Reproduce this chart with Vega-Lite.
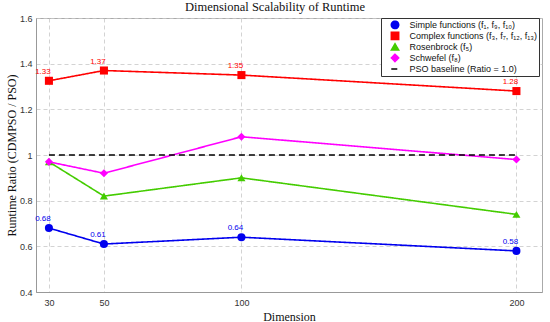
{
  "$schema": "https://vega.github.io/schema/vega-lite/v6.json",
  "width": 506,
  "height": 274,
  "autosize": {"type": "none"},
  "padding": {"left": 36, "top": 18, "right": 8, "bottom": 30},
  "background": "white",
  "title": {"text": "Dimensional Scalability of Runtime", "font": "Liberation Serif", "fontSize": 12.5, "fontWeight": "normal", "color": "#111", "offset": 1, "anchor": "middle", "dx": -14},
  "config": {
    "view": {"stroke": "#aaa", "strokeWidth": 1},
    "axis": {"labelFont": "Liberation Sans", "labelFontSize": 9, "labelColor": "#333", "titleFont": "Liberation Serif", "titleFontSize": 12, "titleFontWeight": "normal", "titleColor": "#111", "gridColor": "#c8c8c8", "gridDash": [4, 3], "gridWidth": 0.8, "domainColor": "#999", "tickSize": 0}
  },
  "data": {"values": [
    {"series": "Simple functions (f₁, f₉, f₁₀)", "dim": 30, "ratio": 0.68, "label": "0.68"},
    {"series": "Simple functions (f₁, f₉, f₁₀)", "dim": 50, "ratio": 0.61, "label": "0.61"},
    {"series": "Simple functions (f₁, f₉, f₁₀)", "dim": 100, "ratio": 0.64, "label": "0.64"},
    {"series": "Simple functions (f₁, f₉, f₁₀)", "dim": 200, "ratio": 0.58, "label": "0.58"},
    {"series": "Complex functions (f₃, f₇, f₁₂, f₁₃)", "dim": 30, "ratio": 1.325, "label": "1.33"},
    {"series": "Complex functions (f₃, f₇, f₁₂, f₁₃)", "dim": 50, "ratio": 1.37, "label": "1.37"},
    {"series": "Complex functions (f₃, f₇, f₁₂, f₁₃)", "dim": 100, "ratio": 1.35, "label": "1.35"},
    {"series": "Complex functions (f₃, f₇, f₁₂, f₁₃)", "dim": 200, "ratio": 1.28, "label": "1.28"},
    {"series": "Rosenbrock (f₅)", "dim": 30, "ratio": 0.97},
    {"series": "Rosenbrock (f₅)", "dim": 50, "ratio": 0.82},
    {"series": "Rosenbrock (f₅)", "dim": 100, "ratio": 0.90},
    {"series": "Rosenbrock (f₅)", "dim": 200, "ratio": 0.74},
    {"series": "Schwefel (f₈)", "dim": 30, "ratio": 0.97},
    {"series": "Schwefel (f₈)", "dim": 50, "ratio": 0.92},
    {"series": "Schwefel (f₈)", "dim": 100, "ratio": 1.08},
    {"series": "Schwefel (f₈)", "dim": 200, "ratio": 0.98},
    {"series": "PSO baseline (Ratio = 1.0)", "dim": 30, "ratio": 1.0},
    {"series": "PSO baseline (Ratio = 1.0)", "dim": 200, "ratio": 1.0}
  ]},
  "encoding": {
    "x": {"field": "dim", "type": "quantitative", "title": "Dimension",
      "scale": {"domain": [25.3, 209.3], "nice": false, "zero": false},
      "axis": {"values": [30, 50, 100, 200], "titlePadding": 4, "labelPadding": 6}},
    "y": {"field": "ratio", "type": "quantitative", "title": "Runtime Ratio (CDMPSO / PSO)",
      "scale": {"domain": [0.4, 1.6], "nice": false},
      "axis": {"values": [0.4, 0.6, 0.8, 1.0, 1.2, 1.4, 1.6], "format": "~g", "titlePadding": 1, "labelPadding": 4}},
    "color": {"field": "series", "type": "nominal",
      "scale": {"domain": ["Simple functions (f₁, f₉, f₁₀)", "Complex functions (f₃, f₇, f₁₂, f₁₃)", "Rosenbrock (f₅)", "Schwefel (f₈)", "PSO baseline (Ratio = 1.0)"],
        "range": ["#0000ee", "#ff0000", "#44cc00", "#ff00ff", "#000000"]},
      "legend": {"title": null, "orient": "none", "legendX": 345, "legendY": 0, "fillColor": "white", "strokeColor": "#333", "padding": 1.5, "labelFont": "Liberation Sans", "labelFontSize": 9, "labelColor": "#111", "rowPadding": 0, "symbolSize": 55, "clipHeight": 10.8, "symbolOffset": 8, "labelOffset": 10, "labelLimit": 300, "symbolStrokeWidth": 1.5,
        "encode": {"symbols": {"update": {"stroke": {"scale": "color", "field": "value"}, "strokeDash": {"signal": "datum.value === 'PSO baseline (Ratio = 1.0)' ? [4, 3] : [1, 0]"}}}}}
    }
  },
  "layer": [
    {"mark": {"type": "line", "strokeWidth": 1.6},
     "encoding": {
       "strokeDash": {"field": "series", "type": "nominal", "legend": null,
         "scale": {"domain": ["Simple functions (f₁, f₉, f₁₀)", "Complex functions (f₃, f₇, f₁₂, f₁₃)", "Rosenbrock (f₅)", "Schwefel (f₈)", "PSO baseline (Ratio = 1.0)"],
           "range": [[1, 0], [1, 0], [1, 0], [1, 0], [6, 4]]}}
     }},
    {"transform": [{"filter": "datum.series !== 'PSO baseline (Ratio = 1.0)'"}],
     "mark": {"type": "point", "filled": true, "opacity": 1, "size": 65},
     "encoding": {
       "shape": {"field": "series", "type": "nominal",
         "scale": {"domain": ["Simple functions (f₁, f₉, f₁₀)", "Complex functions (f₃, f₇, f₁₂, f₁₃)", "Rosenbrock (f₅)", "Schwefel (f₈)", "PSO baseline (Ratio = 1.0)"],
           "range": ["circle", "square", "triangle-up", "diamond", "stroke"]}}
     }},
    {"transform": [{"filter": "isValid(datum.label)"}],
     "mark": {"type": "text", "font": "Liberation Sans", "fontSize": 8, "dx": -6, "dy": -9},
     "encoding": {
       "text": {"field": "label"},
       "color": {"field": "series", "type": "nominal", "legend": null,
         "scale": {"domain": ["Simple functions (f₁, f₉, f₁₀)", "Complex functions (f₃, f₇, f₁₂, f₁₃)", "Rosenbrock (f₅)", "Schwefel (f₈)", "PSO baseline (Ratio = 1.0)"],
           "range": ["#0000ee", "#ff0000", "#44cc00", "#ff00ff", "#000000"]}}
     }}
  ]
}
